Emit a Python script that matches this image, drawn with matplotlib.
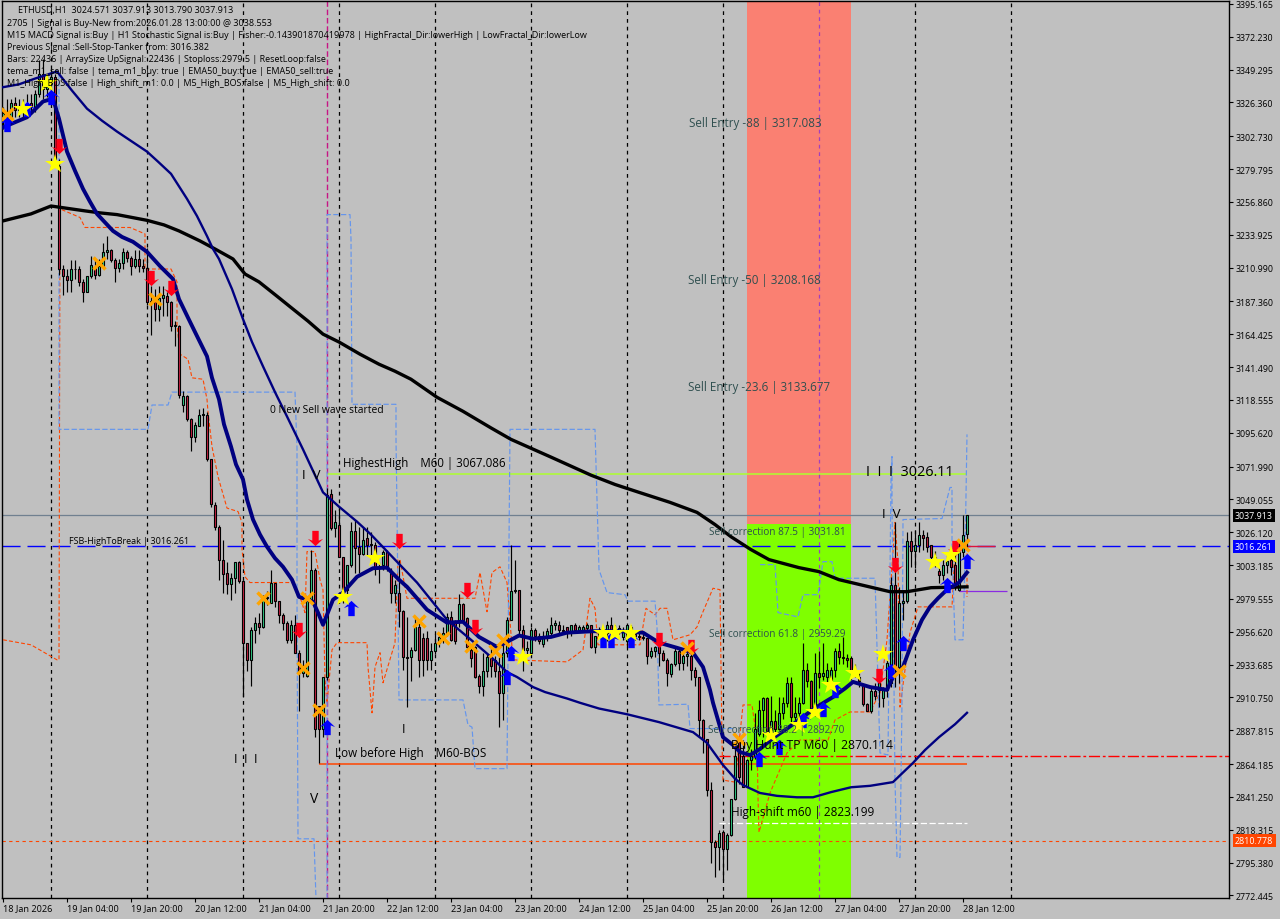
import matplotlib
matplotlib.use("Agg")
import matplotlib.pyplot as plt
import numpy as np
from matplotlib.path import Path
from matplotlib.transforms import blended_transform_factory

plt.rcParams['font.family'] = ['Open Sans', 'DejaVu Sans']

opens = [3314,3319,3316,3326,3321,3323,3322,3326,3323,3332,
3346,3336,3340,3344,3282,3210,3205,3202,3210,3210,
3201,3194,3205,3211,3206,3212,3222,3223,3216,3211,
3214,3222,3218,3212,3217,3212,3211,3187,3188,3182,
3190,3191,3187,3170,3170,3115,3121,3105,3093,3100,
3108,3108,3077,3045,3030,3007,2998,2990,2994,3005,
2992,2949,2937,2958,2963,2960,2980,2977,2991,2978,
2968,2963,2951,2961,2942,2928,2926,2979,3000,2905,
2889,2925,3053,3029,3031,3009,2986,3003,3027,3016,
3011,3022,3018,3017,3001,3003,3012,2998,2984,2984,
2971,2939,2939,2944,2960,2952,2952,2937,2943,2949,
2953,2955,2967,2963,2964,2976,2966,2944,2946,2926,
2919,2929,2939,2937,2929,2914,2942,2965,2985,2986,
2958,2944,2942,2958,2954,2948,2952,2956,2961,2961,
2958,2960,2956,2961,2958,2958,2959,2961,2946,2954,
2956,2956,2961,2954,2958,2953,2950,2960,2955,2954,
2953,2952,2940,2943,2946,2942,2937,2927,2934,2943,
2935,2940,2940,2930,2925,2895,2882,2846,2810,2806,
2817,2805,2815,2840,2880,2870,2848,2867,2870,2885,
2902,2910,2887,2894,2889,2900,2907,2921,2897,2900,
2907,2930,2922,2901,2928,2926,2925,2923,2930,2943,
2939,2938,2938,2930,2925,2919,2906,2901,2915,2916,
2910,2916,2921,2989,2932,2977,2978,3020,3013,3017,
3024.5,3023,3017,3009,2999,2996.5,3003,3007,3003,2986,
3012,3024.571]
closes = [3319,3316,3326,3321,3323,3322,3326,3323,3332,3346,
3336,3340,3344,3287,3210,3205,3202,3210,3210,3201,
3194,3205,3213,3206,3212,3222,3223,3216,3211,3214,
3222,3218,3212,3217,3212,3211,3187,3188,3182,3190,
3192,3187,3170,3171,3122,3121,3105,3093,3101,3108,
3109,3077,3046,3030,3007,2997,2990,2994,3005,2992,
2949,2937,2958,2963,2960,2980,2981,2991,2978,2968,
2963,2951,2961,2942,2928,2933,2979,3000,2889,2889,
2925,3052,3029,3033,3009,2981,3003,3027,3015,3011,
3021,3017,3017,3001,3002,3012,3001,2984,2989,2971,
2939,2938,2944,2960,2937,2937,2937,2943,2949,2953,
2956,2967,2951,2950,2976,2965,2946,2938,2925,2919,
2929,2939,2933,2929,2914,2942,2965,2985,2986,2958,
2944,2945,2958,2954,2950,2952,2957,2961,2963,2958,
2957,2956,2961,2958,2960,2960,2961,2946,2954,2957,
2952,2961,2957,2958,2959,2957,2961,2954,2954,2953,
2952,2940,2943,2946,2942,2937,2928,2934,2943,2935,
2940,2941,2930,2925,2895,2882,2846,2810,2806,2816,
2805,2815,2840,2870,2855,2848,2867,2870,2889,2902,
2910,2887,2894,2889,2900,2907,2921,2897,2900,2907,
2930,2922,2900,2928,2925,2928,2930,2930,2943,2939,
2938,2937,2930,2928,2922,2906,2901,2915,2912,2921,
2916,2935,2989,2932,2977,2978,3020,3013,3017,3024.5,
3022,3016,3009,3007,2996.5,3003,3006,3002,2988,3012,
3024.5,3037.913]
highs = [3323,3329,3329,3330,3329,3329,3332,3332,3335,3356,
3357,3346,3350,3346,3287,3213,3210,3216,3216,3212,
3203,3205,3219,3217,3217,3228,3233,3224,3218,3217,
3225,3223,3219,3223,3223,3217,3225,3198,3196,3198,
3198,3194,3188,3174,3171,3125,3122,3106,3103,3112,
3113,3110,3077,3047,3031,3021,3005,2998,3005,3006,
2993,2949,2960,2967,2970,2982,2985,3000,2991,2978,
2970,2964,2965,2968,2944,2937,2980,3014,3001,2905,
2925,3057,3056,3042,3043,3009,3003,3033,3035,3030,
3030,3030,3026,3019,3005,3014,3014,3001,2993,3007,
2972,2967,2946,2967,2963,2956,2957,2949,2955,2956,
2960,2970,2971,2965,2983,2977,2967,2946,2947,2927,
2942,2942,2945,2940,2939,2951,2967,3017,3007,2986,
2961,2950,2960,2959,2956,2957,2959,2967,2965,2964,
2961,2960,2961,2963,2961,2961,2963,2961,2954,2960,
2958,2964,2967,2961,2961,2960,2961,2961,2957,2957,
2956,2952,2946,2947,2946,2944,2938,2935,2945,2945,
2943,2944,2943,2932,2925,2896,2882,2852,2811,2818,
2818,2816,2840,2876,2881,2881,2868,2875,2900,2909,
2911,2911,2912,2902,2911,2911,2925,2925,2911,2911,
2949,2935,2923,2942,2943,2949,2935,2932,2945,2949,
2953,2941,2940,2934,2928,2920,2907,2918,2921,2925,
2918,2937,2995,3033,2988,2985,3026,3027,3028,3033,
3028,3026,3017,3013,3002,3007,3010,3012,3012,3020,
3038,3037.913]
lows = [3308,3311,3314,3316,3316,3316,3319,3320,3320,3330,
3329,3330,3335,3283,3206,3192,3194,3194,3203,3198,
3187,3194,3204,3203,3205,3212,3217,3215,3201,3208,
3210,3215,3206,3211,3208,3208,3185,3164,3174,3174,
3177,3177,3167,3156,3120,3110,3104,3083,3089,3100,
3100,3076,3044,3028,2993,2984,2983,2979,2984,2991,
2911,2929,2919,2949,2955,2959,2975,2977,2974,2963,
2958,2949,2949,2942,2901,2925,2925,2977,2883,2865,
2883,2923,3028,3023,3009,2977,2982,3002,2998,2998,
3010,3010,3007,2996,2991,3000,2999,2977,2977,2960,
2930,2904,2922,2943,2925,2926,2930,2930,2941,2946,
2949,2954,2950,2948,2960,2964,2945,2932,2924,2914,
2912,2925,2925,2925,2890,2895,2939,2965,2984,2955,
2929,2940,2941,2950,2948,2946,2950,2954,2958,2956,
2956,2952,2954,2957,2957,2957,2957,2945,2942,2952,
2950,2950,2953,2952,2955,2951,2946,2952,2951,2951,
2951,2934,2938,2939,2933,2936,2919,2925,2933,2930,
2930,2933,2923,2919,2883,2872,2842,2795,2785,2790,
2783,2790,2814,2839,2850,2848,2848,2860,2868,2884,
2883,2886,2881,2883,2888,2896,2904,2893,2895,2890,
2906,2918,2898,2898,2917,2923,2920,2918,2925,2934,
2934,2932,2923,2925,2918,2905,2901,2900,2909,2904,
2904,2911,2918,2918,2921,2965,2977,3002,3001,3012,
3014,3012,3005,3002,2991,2993,2998,2996,2986,2985,
3009,3013.79]

slow_bars = [0,4,8,13.5,17.25,21,24.75,28.5,32.25,36,38.75,42,46,48.5,51,52.5,54,57.25,60,62.25,65,68,71,75,77,80,84,88.5,92,98.5,103.5,111,117,122,126,128.5,132.5,135.5,141,144.25,149,156,164,172.5,176,180,183,185,189.25,193.5,198.5,202.5,207,212,216.75,222.5,227.5,230.5,234,238,241]
slow_vals = [3337,3339,3343,3348,3334.6,3322,3313.6,3306,3299,3292,3285,3276.5,3259,3247,3233,3224,3217,3196,3175,3159,3142,3124,3107,3084,3072,3054,3044,3033.5,3024.5,3005.5,2991,2965,2951,2939,2928.5,2925,2918,2914.5,2910,2907,2903,2899,2893.5,2886.5,2879,2863.5,2854,2849.5,2844,2842,2841,2841,2844.6,2848,2849,2851.6,2865,2874,2883,2892,2900]
fast_bars = [0,6,10,12.5,14,16,18,20,21.75,23.5,27.5,29.75,32.5,36,39.25,42.5,44,46.25,48,51,52.25,54,55.25,57,58.25,60,61,62.5,64.25,66,68,70,72.25,74,77.5,78.75,80,82.5,85,88.5,92.5,96,99,101,106,111,115,119,123.5,127,129,132.5,137,141,147.5,154,160,164,168.5,172.5,175,176.75,177.5,180,182.5,184.25,186.75,189.25,192.5,195.5,199,203,207.5,210.5,212.5,216.75,221,222.5,225,227.5,229.75,231.75,233.75,236,239,241]
fast_vals = [3309,3316,3327,3329,3315,3292,3278.6,3266,3257,3248.5,3236.6,3232.4,3229,3222,3212,3203,3189,3176,3166,3149,3134,3119,3101.5,3086,3073.5,3063,3049,3035,3024.5,3016,3008,3002,2993,2981,2977.6,2970,2961.5,2979,2984,2995,3001,3001.4,2993,2988,2972,2963,2963.6,2953,2946,2951,2954,2951.7,2953,2956,2957,2957,2956,2949,2945.4,2942,2932,2916,2907,2883,2877.5,2872.6,2870.5,2874.7,2882.4,2888,2895,2903.4,2911,2917,2921.6,2918,2916,2925,2932,2951,2965,2974,2980,2986,2991,2998]
ema_bars = [0,7,12,20.5,24.25,28.5,36,40.25,44,49.25,53,57.5,60.5,64,68.5,72.5,76.25,80,84,89.25,94,98,102,108.5,115,122,127,137,147,153,159,166.75,173.5,178,182,187,191.5,199,204,209,221.75,226,232,241]
ema_vals = [3243.6,3248.5,3254,3250.6,3249.2,3248,3244,3240.8,3236.6,3229.6,3224,3217,3206.5,3201,3191,3182,3173.6,3164.5,3159,3150.5,3143.5,3138.6,3133,3120.4,3110.6,3099,3091,3078.6,3066,3059.5,3054,3047,3040,3031.5,3023,3014,3007,3001.4,2998.6,2993,2984.6,2984.6,2987.4,2988]
orange_bars = [0,7,13.5,14,14.25,19.25,20.5,31.75,35.5,35.5,38,42,43.5,43.5,44.25,46.25,47.25,50,51,51.25,52.25,53.75,56,58.75,59.75,59.75,60.5,61.75,72.25,74.25,75.5,76,78,79.25,80,80.5,81,82.25,83.5,91,91.25,92.25,93,94.25,95,97.25,98,98.75,99.25,101,118,119.25,121,122.25,124.25,126,127.5,141,145,146.75,148,148.75,159.25,160.75,163,164.25,166,167.5,171.75,173.5,175,177.5,179.25,179.75,180,183,185,187.25,188.5,188.75,189,191.75,196,199.25,206.25,208,211.75,216.75,219.25,221,223,223.75,224.25,226.75,228.75,237.25,238,241,241]
orange_vals = [2951,2947.5,2937,2937,3252,3246,3239,3239,3234.5,3210,3210,3210,3201,3171.5,3150.5,3147,3134,3133,3119,3110,3086,3065,3043,3040.6,3033,3014,2995,2991,2991,2981,2970,3012.6,3012.6,2993,2986,2923,2907,2944,2949,2949,2932,2900,2932,2942,2921,2942,2949,3007,3007,2980,2980,2998,2970.6,2998,3002,2991,2937,2935.6,2944,2980,2973,2947.5,2947.5,2973,2968.5,2973,2973,2951,2954.5,2960,2970.6,2987,2986,2879,2853,2851.6,2905.5,2905.5,2881,2841,2816.6,2844,2872,2881,2881,2895,2900.6,2900.6,2914,2951,3033,3005,2904,2956,2974,2974,3016,3021,2981]
blue_bars = [14,14,36.25,37.25,41.25,42.25,73,73.5,73.5,73.75,77.75,78.25,np.nan,81,81,86.75,87,87.25,98.25,98.25,98.5,99,115,116.25,117.25,118,126,126.75,148,149,151,155.5,156.25,163,163.5,164,171.25,171.75,182.5,np.nan,189.25,193,193.75,198.75,200,203.75,205,207.25,208,218,218.5,219.25,221.25,222,222.25,222.25,223,223.5,224.25,224.75,225,234.75,236.75,237.25,237.25,238,240,240.5,241]
blue_vals = [3346.5,3098,3098,3115,3115,3124,3124,3085,2979,2812,2812,2770,np.nan,2770,3248,3248,3231,3115.5,3115.5,3091,3042,2909,2909,2891.5,2890,2861,2861,3098,3098,3000,2984,2982.5,2978,2978,2960,2905.5,2906,2889,2889,np.nan,3003.5,3003.5,2970,2967,2982.5,2982.5,3005.6,3005.6,2994,2994,2946,2872,2870.5,3063,3079,3049,2853,2799,2799,2909,3035,3035.7,3057.4,3057.4,3016,2951,2951,3009,3094.5]

star_bars = [5,11,13,85,93,130,150,153,157,192,199,203,207,213,220,233,237]
star_vals = [3322,3340,3283,2981,3008,2939,2956,2956,2956,2884.5,2891.5,2900.6,2919.5,2928,2941,3005,3010]
cross_bars = [1,24,38,65,76,75,79,104,110,117,123,125,171,184,224,240]
cross_vals = [3318.5,3214,3189,2980,2980,2931,2902,2964,2952,2947,2943,2951,2945,2882,2929,3017.5]
down_bars = [14,37,42,74,78,99,116,118,164,172,223,219,238]
down_vals = [3296,3204,3197,2958,3022,3020,2986,2960,2951,2946,3003,2926,3015]
up_bars = [1,6,12,81,87,126,127,150,152,157,189,194,200,205,208,222,225,236,241]
up_vals = [3311,3322,3330,2890,2973,2925,2942,2951,2951,2951,2868,2876,2895,2903,2916,2929,2949,2989,3006]

y_ticks = [3395.165,3372.230,3349.295,3326.360,3302.730,3279.795,3256.860,3233.925,3210.990,3187.360,3164.425,3141.490,3118.555,3095.620,3071.990,3049.055,3026.120,3003.185,2979.555,2956.620,2933.685,2910.750,2887.815,2864.185,2841.250,2818.315,2795.380,2772.445]
time_labels = ["18 Jan 2026","19 Jan 04:00","19 Jan 20:00","20 Jan 12:00","21 Jan 04:00","21 Jan 20:00","22 Jan 12:00","23 Jan 04:00","23 Jan 20:00","24 Jan 12:00","25 Jan 04:00","25 Jan 20:00","26 Jan 12:00","27 Jan 04:00","27 Jan 20:00","28 Jan 12:00"]
day_bars = [12,36,60,84,108,132,156,180,204,228,252]
status_lines = [
 "2705 | Signal is Buy-New from:2026.01.28 13:00:00 @ 3038.553",
 "M15 MACD Signal is:Buy | H1 Stochastic Signal is:Buy | Fisher:-0.143901870419978 | HighFractal_Dir:lowerHigh | LowFractal_Dir:lowerLow",
 "Previous Signal :Sell-Stop-Tanker from: 3016.382",
 "Bars: 22436 | ArraySize UpSignal: 22436 | Stoploss:2979.5 | ResetLoop:false",
 "tema_m1_sell: false | tema_m1_buy: true | EMA50_buy:true | EMA50_sell:true",
 "M1_High_BOS:false | High_shift_m1: 0.0 | M5_High_BOS:false | M5_High_shift: 0.0",
]

W, H = 1280, 920
GRAY = '#c0c0c0'
fig = plt.figure(figsize=(W/100, H/100), dpi=100, facecolor=GRAY)
ax = fig.add_axes([2/W, 1-899/H, (1229-2)/W, (899-2)/H], facecolor=GRAY)
ax.set_xlim(-0.25, 306.5)
ax.set_ylim(2770.65, 3397.2)

def T(px, py, s, **kw):
    kw.setdefault('color', 'black')
    kw.setdefault('fontsize', 6.45)
    kw.setdefault('va', 'center')
    kw.setdefault('zorder', 9)
    fig.text(px/W, 1-py/H, s, **kw)

for b in day_bars:
    ax.axvline(b, color='black', lw=0.9, ls=(0, (3, 3.2)), zorder=1)

ax.axvspan(186, 212, ymin=0, ymax=1, color='#7fff00', lw=0, zorder=1.5)
ax.fill_between([186, 212], 3031.81, 3397.2, color='#fa8072', lw=0, zorder=1.6)

ax.axvline(204, color='#a040c0', lw=0.9, ls=(0, (3, 3)), zorder=2.5)
ax.axvline(81, color='#c71585', lw=1.0, ls=(0, (4, 2)), zorder=2.5)

ax.axhline(3037.913, color='#708090', lw=0.9, zorder=2)
ax.axhline(3016.261, color='#0000ff', lw=1.0, ls=(0, (13, 5)), zorder=2)
ax.axhline(2810.778, color='#ff4500', lw=0.8, ls=(0, (3, 3)), zorder=2)
ax.hlines(2870.114, 179, 306.5, color='#ff0000', lw=1.0, ls=(0, (8, 2, 2, 2)), zorder=2)
ax.hlines(2864.3, 79, 241, color='#ff4500', lw=1.1, zorder=2)
ax.hlines(3067.086, 81, 241, color='#adff2f', lw=1.1, zorder=2)
ax.hlines(2823.199, 179, 241, color='white', lw=0.9, ls=(0, (5, 2)), zorder=2)
ax.hlines(2985, 239, 251, color='#8a2be2', lw=0.9, zorder=2)
ax.hlines(3016.261, 239, 248, color='#dc143c', lw=1.0, zorder=2.2)

ax.plot(orange_bars, orange_vals, color='#ff4500', lw=0.8, ls=(0, (3.5, 2)), zorder=3)
ax.plot(blue_bars, blue_vals, color='#6495ed', lw=0.85, ls=(0, (4.5, 2)), zorder=3)

o, c, h, l = map(np.array, (opens, closes, highs, lows))
xs = np.arange(len(o))
ax.vlines(xs, l, h, color='black', lw=0.85, zorder=4)
up = c >= o
ax.bar(xs[up], (c-o)[up], bottom=o[up], width=0.6, color='#33d28a', edgecolor='black', lw=0.8, zorder=4.2)
ax.bar(xs[~up], (c-o)[~up], bottom=o[~up], width=0.6, color='#cc2244', edgecolor='black', lw=0.8, zorder=4.2)

ax.plot(ema_bars, ema_vals, color='black', lw=2.4, zorder=5, solid_joinstyle='round')
ax.plot(slow_bars, slow_vals, color='#000080', lw=1.7, zorder=5, solid_joinstyle='round')
ax.plot(fast_bars, fast_vals, color='#000080', lw=2.8, zorder=5, solid_joinstyle='round')

arrow_up = Path([(0,1),(1,0.05),(0.42,0.28),(0.42,-1),(-0.42,-1),(-0.42,0.28),(-1,0.05),(0,1)], closed=True)
arrow_dn = Path([(0,-1),(1,-0.05),(0.42,-0.28),(0.42,1),(-0.42,1),(-0.42,-0.28),(-1,-0.05),(0,-1)], closed=True)
ax.plot(up_bars, up_vals, ls='', marker=arrow_up, ms=11, color='#0000ff', mew=0, zorder=6)
ax.plot(down_bars, down_vals, ls='', marker=arrow_dn, ms=11, color='#ff0018', mew=0, zorder=6)
ax.plot(cross_bars, cross_vals, ls='', marker='x', ms=8.5, mew=2.5, color='#ffa500', zorder=6.2)
ax.plot(star_bars, star_vals, ls='', marker='*', ms=15, color='#ffff00', mew=0, zorder=6.4)

for s in ax.spines.values():
    s.set_color('black'); s.set_linewidth(1.0)

ax.yaxis.tick_right()
ax.set_yticks(y_ticks)
ax.set_yticklabels([f"{v:.3f}" for v in y_ticks], fontsize=6.4, color='black')
ax.tick_params(axis='y', length=3, width=0.8, pad=1.5, color='black')
ax.set_xticks(np.arange(0, 16*len(time_labels), 16))
ax.set_xticklabels(time_labels, fontsize=6.55, ha='left', color='black')
ax.tick_params(axis='x', length=3, width=0.8, pad=1, color='black')

tr = blended_transform_factory(fig.transFigure, ax.transData)
for val, bg in [(3037.913, 'black'), (3016.261, '#0000ff'), (2810.778, '#ff4500')]:
    fig.text(1235/W, val, f"{val:.3f}", transform=tr, fontsize=6.4, color='white', va='center', ha='left', zorder=12,
             bbox=dict(boxstyle='square,pad=0.25', fc=bg, ec=bg, lw=0))

T(18, 10, "ETHUSD,H1  3024.571 3037.913 3013.790 3037.913")
for k, line in enumerate(status_lines):
    T(7, [23, 35.5, 47.5, 59.5, 71.5, 83.5][k], line)

SLATE = '#2f4f4f'
T(689, 124, "Sell Entry -88 | 3317.083", color=SLATE, fontsize=8.4)
T(688, 281, "Sell Entry -50 | 3208.168", color=SLATE, fontsize=8.4)
T(688, 387, "Sell Entry -23.6 | 3133.677", color=SLATE, fontsize=8.4)
T(709, 532, "Sell correction 87.5 | 3031.81", color=SLATE, fontsize=7.2)
T(709, 635, "Sell correction 61.8 | 2959.29", color=SLATE, fontsize=7.2)
T(708, 731, "Sell correction 38.2 | 2892.70", color=SLATE, fontsize=7.2)
T(270, 411, "0 New Sell wave started", fontsize=7.4)
T(343, 464, "HighestHigh    M60 | 3067.086", fontsize=8.3)
T(69, 541, "FSB-HighToBreak | 3016.261", fontsize=6.5)
T(335, 754, "Low before High    M60-BOS", fontsize=8.4)
T(731, 746, "Buy Hunt TP M60 | 2870.114", fontsize=8.7)
T(731, 813, "High-shift m60 | 2823.199", fontsize=8.5)
T(866, 473, "I  I  I  3026.11", fontsize=10.4)
T(302, 476, "I  V", fontsize=9.5)
T(882, 515, "I  V", fontsize=9.5)
T(234, 760, "I  I  I", fontsize=9)
T(402, 730, "I", fontsize=9)
T(310, 800, "V", fontsize=10)

fig.savefig("out.png", dpi=100, facecolor=GRAY)
